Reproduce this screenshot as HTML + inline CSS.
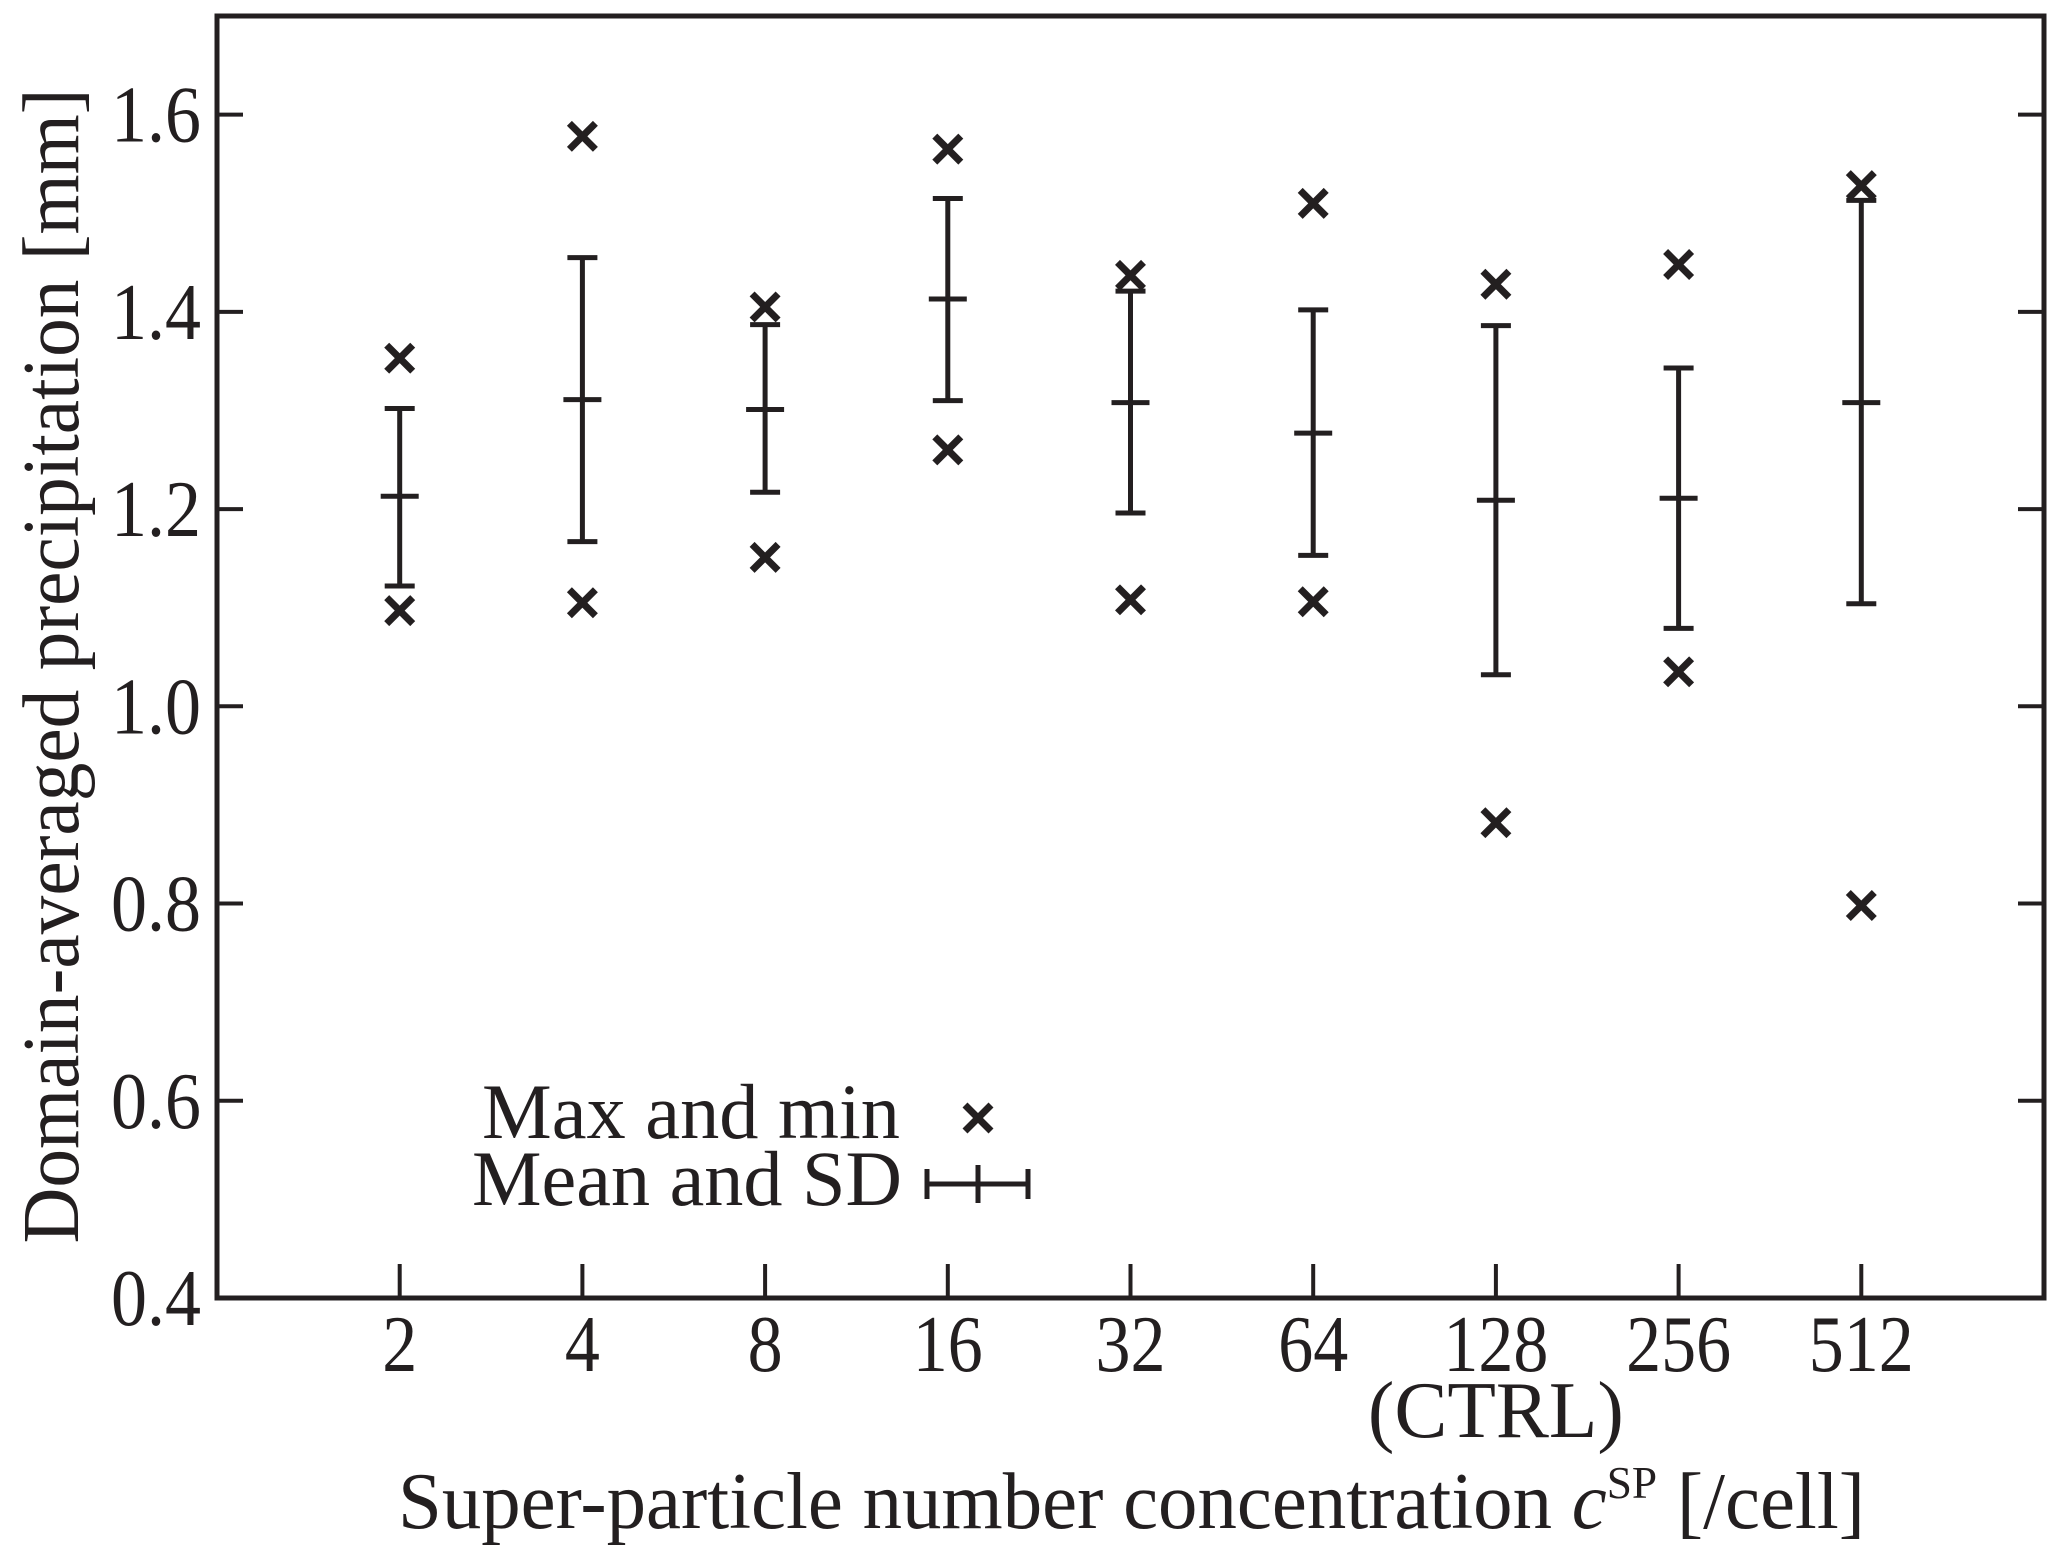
<!DOCTYPE html>
<html><head><meta charset="utf-8"><style>html,body{margin:0;padding:0;background:#fff}svg{display:block}text{font-family:"Liberation Serif",serif;fill:#231f20}</style></head>
<body>
<svg id="chart" width="2067" height="1558" viewBox="0 0 2067 1558" xmlns="http://www.w3.org/2000/svg">
<g id="plot"></g>
</svg>
<script>
const categories = ["2","4","8","16","32","64","128","256","512"];
const meanValues = [1.213,1.311,1.301,1.413,1.308,1.277,1.209,1.211,1.308];
const sdUpper = [1.302,1.455,1.387,1.515,1.421,1.402,1.386,1.343,1.513];
const sdLower = [1.122,1.167,1.217,1.310,1.196,1.153,1.032,1.079,1.104];
const maxValues = [1.353,1.578,1.405,1.565,1.437,1.510,1.428,1.448,1.528];
const minValues = [1.097,1.105,1.151,1.260,1.108,1.106,0.882,1.035,0.798];
const yTicks = [0.4,0.6,0.8,1.0,1.2,1.4,1.6];
const yTickLabels = ["0.4","0.6","0.8","1.0","1.2","1.4","1.6"];

const L=217,R=2044,T=16,B=1298,yMin=0.4,yMax=1.7;
const ns="http://www.w3.org/2000/svg";
const g=document.getElementById('plot');
const col="#231f20";
function x(i){return L+(i+1)*(R-L)/10;}
function y(v){return B-(v-yMin)/(yMax-yMin)*(B-T);}
function mk(tag,attrs,parent){const e=document.createElementNS(ns,tag);for(const k in attrs)e.setAttribute(k,attrs[k]);(parent||g).appendChild(e);return e;}
function line(x1,y1,x2,y2,w){return mk('line',{x1:x1,y1:y1,x2:x2,y2:y2,stroke:col,'stroke-width':w||5});}
function cross(cx,cy){const s=13;const gg=mk('g',{});


mk('line',{x1:cx-s,y1:cy-s,x2:cx+s,y2:cy+s,stroke:col,'stroke-width':7},gg);
mk('line',{x1:cx-s,y1:cy+s,x2:cx+s,y2:cy-s,stroke:col,'stroke-width':7},gg);return gg;}

const fr=mk('rect',{x:L,y:T,width:R-L,height:B-T,fill:'none',stroke:col,'stroke-width':5});



yTicks.forEach((v,i)=>{
  const yy=y(v);
  line(L,yy,L+26,yy,4); line(R-26,yy,R,yy,4);
  const t=mk('text',{x:201,y:yy+27,'text-anchor':'end','font-size':80,textLength:90,lengthAdjust:'spacingAndGlyphs'});
  t.textContent=yTickLabels[i];
  
  
});
categories.forEach((c,i)=>{
  const xx=x(i);
  line(xx,B,xx,B-34,4);
  const t=mk('text',{x:xx,y:1371,'text-anchor':'middle','font-size':80,textLength:c.length*35,lengthAdjust:'spacingAndGlyphs'});
  t.textContent=c;
  
  
});
const ctrl=mk('text',{x:x(6),y:1437,'text-anchor':'middle','font-size':80,textLength:256,lengthAdjust:'spacingAndGlyphs'});
ctrl.textContent="(CTRL)";



categories.forEach((c,i)=>{
  const xx=x(i);
  const eg=mk('g',{});
  
  
  mk('line',{x1:xx,y1:y(sdUpper[i]),x2:xx,y2:y(sdLower[i]),stroke:col,'stroke-width':5},eg);
  mk('line',{x1:xx-15,y1:y(sdUpper[i]),x2:xx+15,y2:y(sdUpper[i]),stroke:col,'stroke-width':5},eg);
  mk('line',{x1:xx-15,y1:y(sdLower[i]),x2:xx+15,y2:y(sdLower[i]),stroke:col,'stroke-width':5},eg);
  mk('line',{x1:xx-19,y1:y(meanValues[i]),x2:xx+19,y2:y(meanValues[i]),stroke:col,'stroke-width':5},eg);
  cross(xx,y(maxValues[i]));
  cross(xx,y(minValues[i]));
});

const l1=mk('text',{x:900,y:1138,'text-anchor':'end','font-size':78,textLength:418,lengthAdjust:'spacingAndGlyphs'});
l1.textContent="Max and min";


cross(978,1118);
const l2=mk('text',{x:902,y:1205,'text-anchor':'end','font-size':78,textLength:430,lengthAdjust:'spacingAndGlyphs'});
l2.textContent="Mean and SD";


line(927,1184,1028,1184,5);line(927,1169,927,1199,5);line(1028,1169,1028,1199,5);line(978,1165,978,1203,5);

const xt=mk('text',{x:398,y:1528,'font-size':80,textLength:1467,lengthAdjust:'spacingAndGlyphs'});
xt.innerHTML='Super-particle number concentration <tspan font-style="italic">c</tspan><tspan font-size="46" dy="-30">SP</tspan><tspan dy="30"> [/cell]</tspan>';


const yt=mk('text',{x:0,y:0,'font-size':80,'text-anchor':'middle',textLength:1155,lengthAdjust:'spacingAndGlyphs',transform:'translate(78,666) rotate(-90)'});
yt.textContent="Domain-averaged precipitation [mm]";


</script>
</body></html>
